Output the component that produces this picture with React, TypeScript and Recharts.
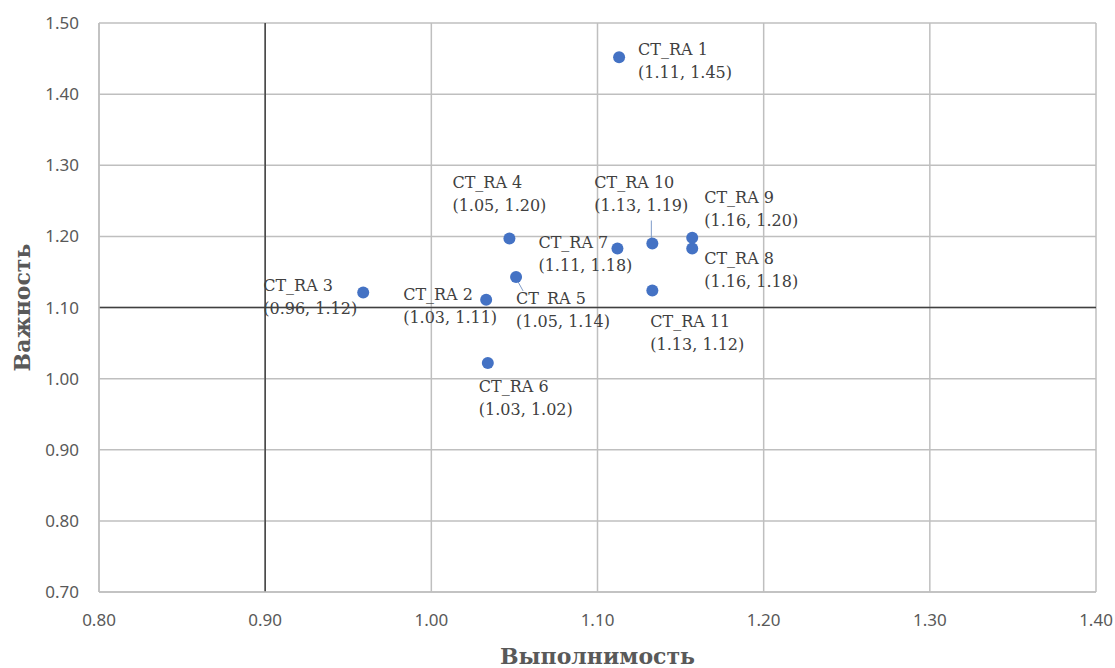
import React from 'react';
import { ScatterChart, Scatter, XAxis, YAxis, CartesianGrid, ReferenceLine, Label } from 'recharts';

const names = ['CT_RA 1', 'CT_RA 2', 'CT_RA 3', 'CT_RA 4', 'CT_RA 5', 'CT_RA 6', 'CT_RA 7', 'CT_RA 8', 'CT_RA 9', 'CT_RA 10', 'CT_RA 11'];
const performance = [1.113, 1.033, 0.959, 1.047, 1.051, 1.034, 1.112, 1.157, 1.157, 1.133, 1.133];
const importance = [1.452, 1.111, 1.121, 1.197, 1.143, 1.022, 1.183, 1.183, 1.198, 1.19, 1.124];

const xTicks = [0.8, 0.9, 1.0, 1.1, 1.2, 1.3, 1.4];
const yTicks = [0.7, 0.8, 0.9, 1.0, 1.1, 1.2, 1.3, 1.4, 1.5];

// label placement relative to each dot: [dx to text left, dy to first line centre]
const labelPos: [number, number][] = [
  [19, -8], [-83, -5], [-100, -7], [-57, -56], [0, 22], [-9, 24],
  [-79, -6], [12, 10], [12, -40], [-58, -61], [-2, 31],
];
// leader lines (x1, y1, x2, y2 relative to dot)
const leaders: Record<number, [number, number, number, number]> = {
  4: [2, 5, 7, 14],
  9: [-1, -5, -1, -23],
};

const points = names.map((name, i) => ({ idx: i, name, x: performance[i], y: importance[i] }));

const tickStyle = { fontFamily: '"Noto Sans", sans-serif', fontSize: 17, fill: '#595959' };
const serif = '"DejaVu Serif", "Liberation Serif", serif';

const Dot = (props: any) => {
  const { cx, cy, payload } = props;
  const i = payload.idx;
  const [dx, dy] = labelPos[i];
  const ld = leaders[i];
  const tx = cx + dx;
  const ty = cy + dy;
  const font = { fontFamily: serif, fontSize: 16, fill: '#404040' };
  return (
    <g>
      {ld && <line x1={cx + ld[0]} y1={cy + ld[1]} x2={cx + ld[2]} y2={cy + ld[3]} stroke="#7f9cc9" strokeWidth={1} />}
      <circle cx={cx} cy={cy} r={6} fill="#4472C4" />
      <text x={tx} y={ty} dominantBaseline="central" {...font}>{payload.name}</text>
      <text x={tx} y={ty + 23} dominantBaseline="central" {...font}>
        ({payload.x.toFixed(2)}, {payload.y.toFixed(2)})
      </text>
    </g>
  );
};

export default function App() {
  return (
    <div style={{ position: 'absolute', left: 0, top: 0, width: 1115, height: 668, background: '#fff' }}>
      <ScatterChart width={1115} height={668} margin={{ top: 23, right: 19, bottom: 0, left: 0 }}>
        <CartesianGrid stroke="#bfbfbf" strokeWidth={1.5} />
        <XAxis
          type="number"
          dataKey="x"
          domain={[0.8, 1.4]}
          ticks={xTicks}
          allowDataOverflow
          tickFormatter={(v: number) => v.toFixed(2)}
          tick={tickStyle}
          tickSize={0}
          tickMargin={22}
          axisLine={{ stroke: '#bfbfbf', strokeWidth: 1.5 }}
          height={76}
        >
          <Label
            content={(p: any) => {
              const vb = p.viewBox;
              return (
                <text x={vb.x + vb.width / 2} y={vb.y + 64} textAnchor="middle" dominantBaseline="central"
                  fontFamily={serif} fontSize={22} fontWeight="bold" fill="#595959">
                  Выполнимость
                </text>
              );
            }}
          />
        </XAxis>
        <YAxis
          type="number"
          dataKey="y"
          domain={[0.7, 1.5]}
          ticks={yTicks}
          allowDataOverflow
          tickFormatter={(v: number) => v.toFixed(2)}
          tick={tickStyle}
          tickSize={0}
          tickMargin={20}
          axisLine={{ stroke: '#bfbfbf', strokeWidth: 1.5 }}
          width={99}
        >
          <Label
            content={(p: any) => {
              const vb = p.viewBox;
              const cx = 22;
              const cy = vb.y + vb.height / 2;
              return (
                <text x={cx} y={cy} textAnchor="middle" dominantBaseline="central" transform={`rotate(-90 ${cx} ${cy})`}
                  fontFamily={serif} fontSize={22} fontWeight="bold" fill="#595959">
                  Важность
                </text>
              );
            }}
          />
        </YAxis>
        <ReferenceLine x={0.9} stroke="#404040" strokeWidth={1.5} />
        <ReferenceLine y={1.1} stroke="#404040" strokeWidth={1.5} />
        <Scatter data={points} shape={Dot} isAnimationActive={false} />
      </ScatterChart>
    </div>
  );
}
